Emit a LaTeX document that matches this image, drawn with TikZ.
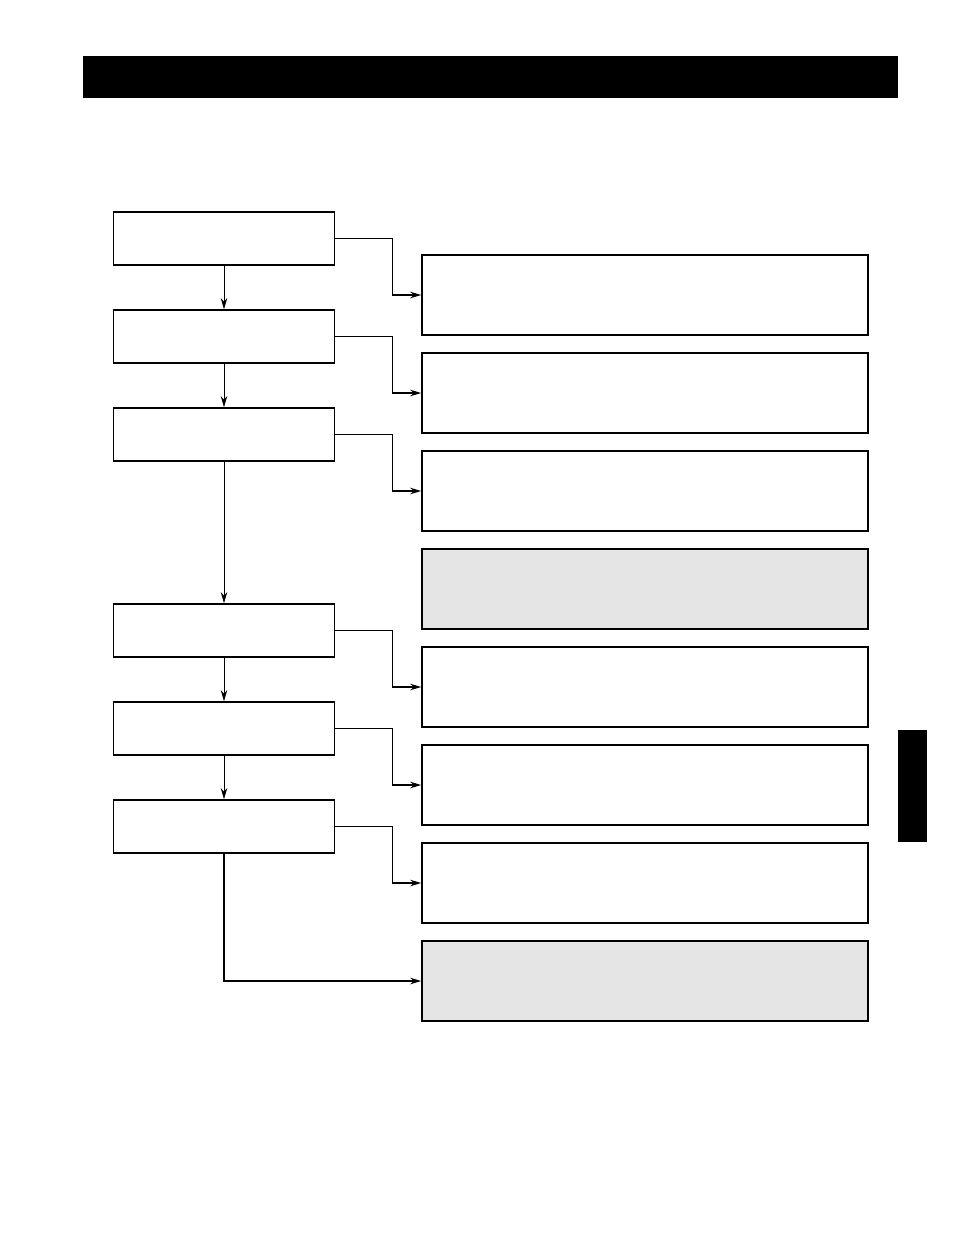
\documentclass[tikz,border=0pt]{standalone}
\usepackage{xcolor}
\usetikzlibrary{positioning, arrows.meta}
\definecolor{panelgray}{HTML}{E5E5E5}

\begin{document}
\begin{tikzpicture}[x=1pt, y=1pt,
    stepbox/.style={draw, line width=1.8pt, minimum width=221pt, minimum height=53pt, inner sep=0pt},
    infobox/.style={draw, line width=1.6pt, minimum width=446pt, minimum height=80.4pt, inner sep=0pt},
    shadebox/.style={infobox, fill=panelgray},
    down/.style={-{Stealth[length=11pt, width=6.5pt]}, line width=0.8pt},
    elbow/.style={-{Stealth[length=11pt, width=6.5pt]}, line width=1.3pt}]
  \useasboundingbox (0,0) rectangle (954,-1235);
  % header bar and side tab
  \fill (83,-56) rectangle (898,-98);
  \fill (898,-730) rectangle (927,-842);
  % left column
  \node[stepbox] (s1) at (224,-238.5) {};
  \node[stepbox, below=43.2pt of s1] (s2) {};
  \node[stepbox, below=43.2pt of s2] (s3) {};
  \node[stepbox, below=141.2pt of s3] (s4) {};
  \node[stepbox, below=43.2pt of s4] (s5) {};
  \node[stepbox, below=43.2pt of s5] (s6) {};
  % right column
  \node[infobox] (r1) at (645,-295) {};
  \node[infobox, below=16pt of r1] (r2) {};
  \node[infobox, below=16pt of r2] (r3) {};
  \node[shadebox, below=16pt of r3] (r4) {};
  \node[infobox, below=16pt of r4] (r5) {};
  \node[infobox, below=16pt of r5] (r6) {};
  \node[infobox, below=16pt of r6] (r7) {};
  \node[shadebox, below=16pt of r7] (r8) {};
  % flow down the left column
  \draw[down] (s1) -- (s2);
  \draw[down] (s2) -- (s3);
  \draw[down] (s3) -- (s4);
  \draw[down] (s4) -- (s5);
  \draw[down] (s5) -- (s6);
  \draw[elbow] (s6.south) |- (r8.west);
  % side links
  \draw[elbow] (s1.east) -- ++(57,0) |- (r1.west);
  \draw[elbow] (s2.east) -- ++(57,0) |- (r2.west);
  \draw[elbow] (s3.east) -- ++(57,0) |- (r3.west);
  \draw[elbow] (s4.east) -- ++(57,0) |- (r5.west);
  \draw[elbow] (s5.east) -- ++(57,0) |- (r6.west);
  \draw[elbow] (s6.east) -- ++(57,0) |- (r7.west);
\end{tikzpicture}
\end{document}
